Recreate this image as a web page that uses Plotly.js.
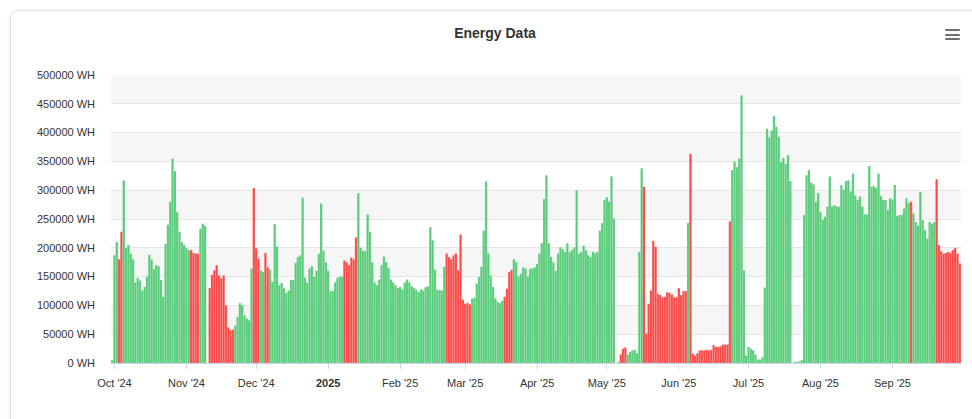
<!DOCTYPE html>
<html>
<head>
<meta charset="utf-8">
<script src="https://cdn.plot.ly/plotly-3.0.1.min.js"></script>
<style>
  html, body { margin: 0; padding: 0; background: #ffffff; overflow: hidden; }
  #card { position: absolute; left: 10px; top: 10px; width: 980px; height: 430px;
          border: 1px solid #e2e2e2; border-radius: 7px; box-shadow: 0 1px 5px rgba(0,0,0,0.07); background: #fff; }
  #chart { position: absolute; left: 0; top: 0; width: 972px; height: 419px; }
  #menu { position: absolute; left: 945px; top: 29px; width: 15px; height: 11px; }
  #menu div { height: 2px; background: #707070; margin-bottom: 2.5px; border-radius: 1px; }
</style>
</head>
<body>
<div id="card"></div>
<div id="chart"></div>
<div id="menu"><div></div><div></div><div></div></div>
<script>
// Daily energy values (WH), first day 2024-09-30
const startDate = '2024-09-30';
const sep24 = [5000];
const oct24 = [187000,210000,180000,228000,317000,200000,205000,190000,180000,140000,148000,143000,126000,132000,150000,188000,180000,163000,170000,168000,144000,115000,207000,240000,280000,355000,333000,262000,228000,210000,205000];
const nov24 = [200000,196000,196000,191000,190000,190000,233000,242000,238000,0,130000,153000,161000,170000,152000,147000,152000,100000,62000,57000,58000,65000,80000,104000,100000,83000,77000,74000,164000,304000];
const dec24 = [199000,181000,161000,158000,191000,166000,162000,141000,241000,202000,135000,139000,130000,122000,126000,144000,144000,174000,184000,187000,287000,148000,139000,164000,168000,150000,160000,190000,277000,195000,175000];
const jan25 = [160000,125000,125000,140000,148000,150000,150000,178000,175000,170000,183000,180000,218000,295000,200000,195000,194000,258000,228000,175000,140000,135000,145000,170000,185000,175000,165000,145000,140000,135000,130000];
const feb25 = [132000,128000,140000,145000,140000,133000,130000,127000,123000,128000,126000,132000,133000,236000,213000,162000,127000,127000,126000,167000,190000,184000,180000,187000,190000,161000,223000,110000];
const mar25 = [103000,104000,102000,112000,113000,138000,150000,167000,230000,315000,190000,152000,132000,112000,106000,104000,108000,115000,129000,158000,162000,180000,175000,150000,155000,166000,164000,150000,164000,164000,166000];
const apr25 = [172000,190000,208000,285000,326000,208000,184000,175000,160000,190000,201000,198000,193000,208000,193000,196000,201000,300000,190000,193000,204000,196000,187000,184000,193000,191000,193000,230000,243000,283000];
const may25 = [288000,280000,324000,251000,0,2000,15000,25000,27000,15000,19000,22000,23000,17000,193000,338000,306000,51000,103000,126000,212000,202000,120000,118000,114000,115000,123000,122000,119000,114000,114000];
const jun25 = [130000,118000,125000,125000,243000,363000,16000,13000,17000,22000,22000,22000,23000,22000,23000,31000,28000,28000,29000,32000,32000,32000,246000,335000,350000,340000,355000,465000,161000,13000];
const jul25 = [28000,25000,22000,15000,6000,6000,10000,131000,407000,392000,404000,429000,410000,393000,349000,356000,346000,361000,316000,0,2000,2000,3000,5000,257000,326000,335000,313000,310000,280000,295000];
const aug25 = [262000,249000,254000,272000,324000,272000,274000,272000,271000,309000,301000,316000,317000,298000,329000,291000,283000,289000,272000,258000,258000,342000,306000,307000,304000,329000,290000,283000,283000,266000,286000];
const sep25 = [284000,309000,255000,257000,257000,268000,286000,278000,280000,260000,245000,239000,297000,248000,231000,216000,245000,242000,245000,319000,205000,194000,190000,191000,193000,191000,196000,200000,190000,173000];

// Bar colour per day: g = green, r = red
const sep24Flags = 'g';
const oct24Flags = 'ggrrggggggggggggggggggggggggggg';
const nov24Flags = 'ggrrrrgggrrrrrrrrrrrrggggggggr';
const dec24Flags = 'rrggrrggggggggggggggggggggggggg';
const jan25Flags = 'gggggggrrrrrrgggggggggggggggggg';
const feb25Flags = 'ggggggggggggggggggggrrrrrrrr';
const mar25Flags = 'rrrggggggggggggggrrrrgggggggggg';
const apr25Flags = 'gggggggggggggggggggggggggggggg';
const may25Flags = 'ggggggrrrgggggggrrrrrrrrrrrrrrr';
const jun25Flags = 'rrrrgrrrrrrrrrrrrrrrrrrggggggg';
const jul25Flags = 'ggggggggggggggggggggggggggggggg';
const aug25Flags = 'ggggggggggggggggggggggggggggggg';
const sep25Flags = 'ggggggggrggggggggggrrrrrrrrrrr';

const monthTickVals = ['2024-10-01','2024-11-01','2024-12-01','2025-01-01','2025-02-01','2025-03-01','2025-04-01','2025-05-01','2025-06-01','2025-07-01','2025-08-01','2025-09-01'];
const monthTickText = ["Oct '24","Nov '24","Dec '24","<b>2025</b>","Feb '25","Mar '25","Apr '25","May '25","Jun '25","Jul '25","Aug '25","Sep '25"];

const GREEN = '#58cb79';
const RED = '#fb4a47';

const values = [].concat(sep24, oct24, nov24, dec24, jan25, feb25, mar25, apr25, may25, jun25, jul25, aug25, sep25);
const flags = [sep24Flags, oct24Flags, nov24Flags, dec24Flags, jan25Flags, feb25Flags, mar25Flags, apr25Flags, may25Flags, jun25Flags, jul25Flags, aug25Flags, sep25Flags].join('');

const dates = [];
const t0 = Date.UTC(2024, 8, 30);
for (let i = 0; i < values.length; i++) {
  const d = new Date(t0 + i * 86400000);
  dates.push(d.toISOString().slice(0, 10));
}
const colors = flags.split('').map(f => f === 'r' ? RED : GREEN);

const trace = {
  type: 'bar',
  x: dates,
  y: values,
  marker: { color: colors, line: { color: 'rgba(255,255,255,0.45)', width: 0.3 } },
  hoverinfo: 'x+y'
};

const bands = [];
for (let v = 50000; v < 500000; v += 100000) {
  bands.push({ type: 'rect', xref: 'paper', yref: 'y', x0: 0, x1: 1, y0: v, y1: v + 50000,
               fillcolor: '#f6f6f6', line: { width: 0 }, layer: 'below' });
}

const layout = {
  width: 972, height: 419,
  margin: { l: 111, r: 11, t: 75, b: 56, pad: 0 },
  paper_bgcolor: 'rgba(0,0,0,0)',
  plot_bgcolor: 'rgba(0,0,0,0)',
  font: { family: 'Liberation Sans, Arial, sans-serif', size: 11, color: '#333333' },
  title: { text: '<b>Energy Data</b>', font: { family: 'Liberation Sans, Arial, sans-serif', size: 14, color: '#333333' },
           x: 495 / 972, xref: 'container', xanchor: 'center', y: 1 - 33 / 419, yref: 'container', yanchor: 'middle' },
  bargap: 0,
  showlegend: false,
  shapes: bands,
  xaxis: {
    type: 'date',
    range: ['2024-09-29 12:00', '2025-09-30 12:00'],
    tickmode: 'array', tickvals: monthTickVals, ticktext: monthTickText,
    ticks: 'outside', ticklen: 5, tickcolor: '#ccd6eb', tickwidth: 1,
    ticklabelstandoff: 5,
    showline: true, linecolor: '#ccd6eb', linewidth: 1,
    showgrid: false, zeroline: false,
    tickfont: { size: 11, color: '#333333' },
    fixedrange: true
  },
  yaxis: {
    range: [0, 500000],
    tick0: 0, dtick: 50000, tickformat: 'd', ticksuffix: ' WH',
    showgrid: true, gridcolor: '#e6e6e6', gridwidth: 1,
    zeroline: false, showline: false,
    ticklabelstandoff: 15,
    tickfont: { size: 11, color: '#333333' },
    fixedrange: true
  }
};

Plotly.newPlot('chart', [trace], layout, { displayModeBar: false, staticPlot: true });
</script>
</body>
</html>
